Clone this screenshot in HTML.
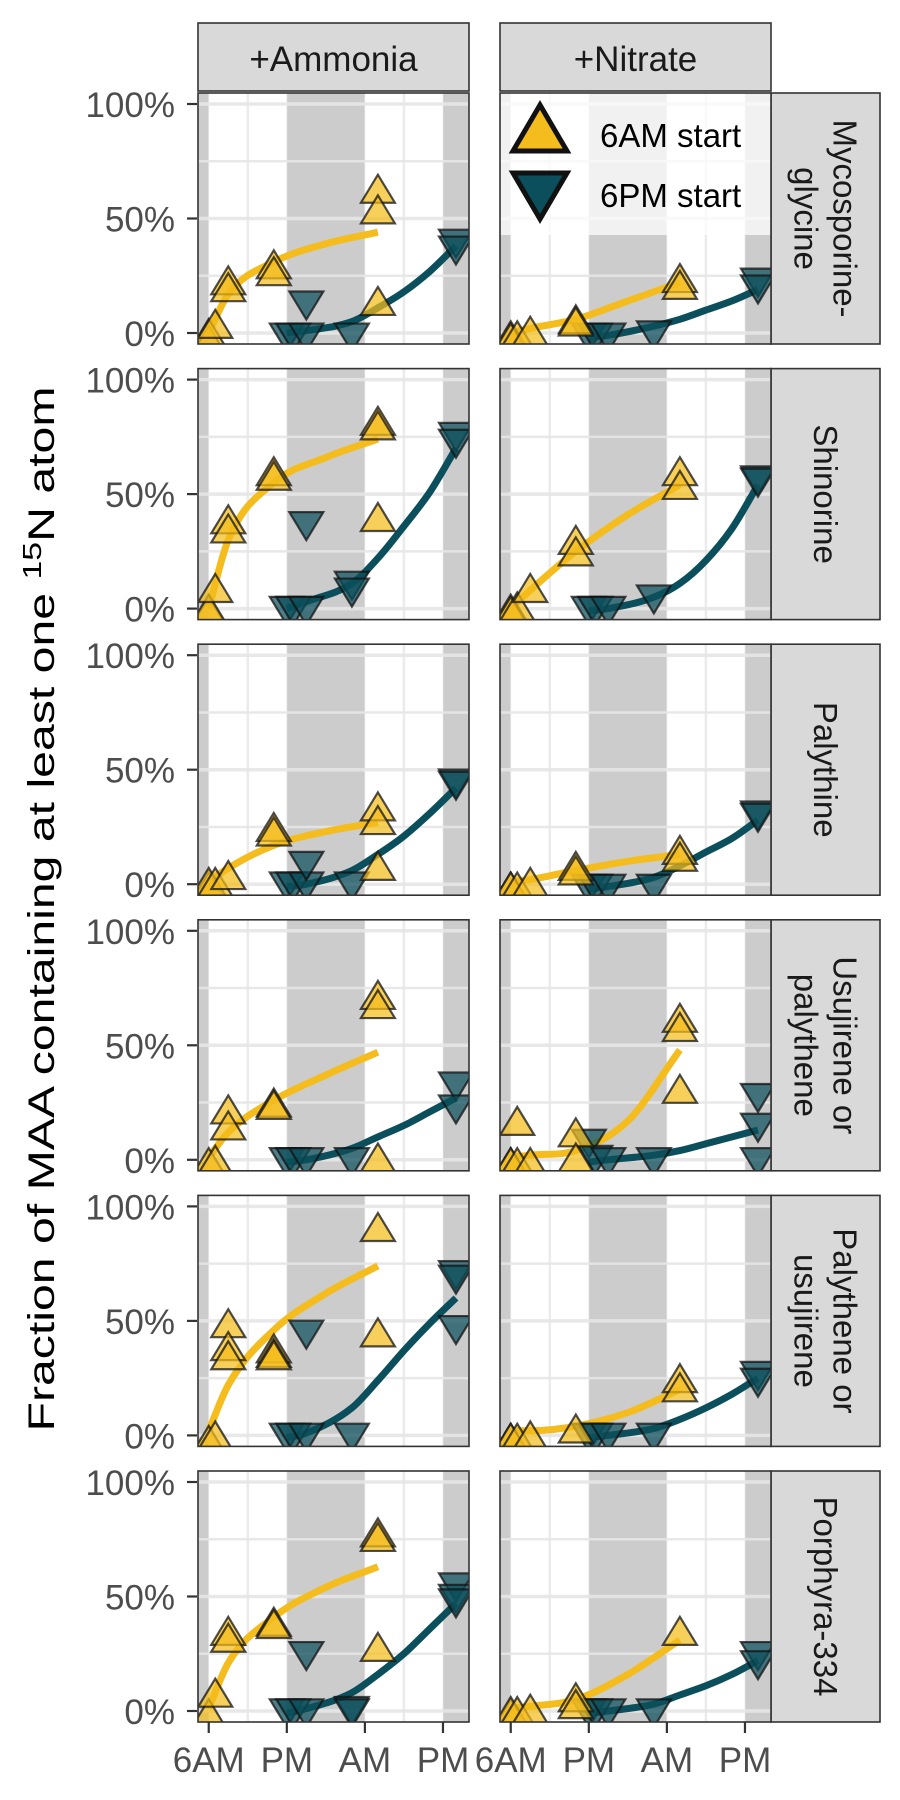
<!DOCTYPE html>
<html><head><meta charset="utf-8">
<style>
html,body{margin:0;padding:0;background:#fff;}
svg{display:block;font-family:"Liberation Sans",Arial,sans-serif;}
</style></head>
<body>
<svg id="chart" width="900" height="1800" viewBox="0 0 900 1800" xmlns="http://www.w3.org/2000/svg">
<text transform="translate(54,909) rotate(-90)" text-anchor="middle" font-size="37" fill="#000" textLength="1045" lengthAdjust="spacingAndGlyphs">Fraction of MAA containing at least one <tspan font-size="26" dy="-13">15</tspan><tspan dy="13">N atom</tspan></text>
</svg>
<script>
// ---- data ----
const rowNames = [["Mycosporine-","glycine"],["Shinorine"],["Palythine"],["Usujirene or","palythene"],["Palythene or","usujirene"],["Porphyra-334"]];
const colNames = ["+Ammonia","+Nitrate"];
const xTickLabels = ["6AM","PM","AM","PM"];
const xTickTimes = [0,12,24,36];
const yTickValues = [0,50,100];
const yTickLabels = ["0%","50%","100%"];
const fitTimesAM = [0,3,10,18,26];
const fitTimesPM = [12,15,22,26,30,34,38];

// points [time(h), percent]
const myco_amm_am = [[0,-3],[0,0],[1,4],[3,23],[3,20],[10,30],[10,27],[26,63],[26,54],[26,14]];
const myco_amm_pm = [[12,-2],[13,-2],[15,-2],[15,12],[22,-2],[38,39],[38,36]];
const myco_nit_am = [[0,-1],[0,-2],[1,-1],[3,1],[10,6],[10,5],[26,24],[26,21]];
const myco_nit_pm = [[12,-2],[13,-2],[15,-2],[22,-1],[38,22],[38,19]];
const shin_amm_am = [[0,-1],[0,0],[1,9],[3,39],[3,35],[10,60],[10,58],[26,82],[26,80],[26,40]];
const shin_amm_pm = [[12,-1],[13,-1],[15,-1],[15,36],[22,10],[22,7],[38,75],[38,72]];
const shin_nit_am = [[0,0],[0,-1],[1,1],[3,9],[10,30],[10,25],[26,60],[26,54]];
const shin_nit_pm = [[12,-1],[13,-1],[15,-1],[22,4],[38,56],[38,55]];
const paly_amm_am = [[0,-1],[0,1],[1,1],[3,4],[10,25],[10,23],[26,34],[26,28],[26,8]];
const paly_amm_pm = [[12,-1],[13,-1],[15,-1],[15,8],[22,-1],[38,44],[38,43]];
const paly_nit_am = [[0,-1],[0,-1],[1,-1],[3,1],[10,8],[10,6],[26,15],[26,12]];
const paly_nit_pm = [[12,-2],[13,-2],[15,-2],[22,-2],[38,30],[38,29]];
const usuj_amm_am = [[0,-1],[1,0],[3,22],[3,15],[10,25],[10,24],[26,72],[26,68],[26,1]];
const usuj_amm_pm = [[12,-1],[13,-1],[15,-1],[22,-1],[38,32],[38,22]];
const usuj_nit_am = [[0,-1],[0,-1],[1,17],[1,-1],[3,-1],[10,12],[10,1],[26,62],[26,58],[26,31]];
const usuj_nit_pm = [[12,7],[13,0],[15,-1],[22,-1],[38,27],[38,14],[38,-1]];
const pale_amm_am = [[0,-2],[1,0],[3,49],[3,39],[3,35],[10,38],[10,36],[10,35],[26,91],[26,45]];
const pale_amm_pm = [[12,-1],[13,-1],[15,-1],[15,44],[22,-1],[38,70],[38,68],[38,46]];
const pale_nit_am = [[0,-1],[0,-1],[1,-1],[3,0],[10,3],[26,25],[26,21]];
const pale_nit_pm = [[12,-1],[13,-1],[15,-1],[22,-1],[38,26],[38,23]];
const porp_amm_am = [[0,-1],[1,8],[3,35],[3,32],[10,39],[10,38],[26,78],[26,76],[26,28]];
const porp_amm_pm = [[12,-1],[13,-1],[15,-1],[15,24],[22,0],[22,-1],[38,54],[38,49],[38,47]];
const porp_nit_am = [[0,-1],[0,0],[1,0],[3,1],[10,6],[10,3],[26,35]];
const porp_nit_pm = [[12,-1],[13,-1],[15,-1],[22,-1],[38,24],[38,20]];

// fitted curves (percent at fitTimesAM / fitTimesPM)
const myco_amm_fitAM = [0,17,31,39,44];
const myco_amm_fitPM = [0,1,5,11,18,27,38];
const myco_nit_fitAM = [0,2,6,14,22];
const myco_nit_fitPM = [-2,-1,3,6,10,14,19];
const shin_amm_fitAM = [0,30,55,66,74];
const shin_amm_fitPM = [0,3,11,22,36,51,70];
const shin_nit_fitAM = [0,8,25,41,54];
const shin_nit_fitPM = [-1,0,5,11,21,35,54];
const paly_amm_fitAM = [1,7,17,23,27];
const paly_amm_fitPM = [-1,0,6,13,21,31,42];
const paly_nit_fitAM = [1,2,6,10,13];
const paly_nit_fitPM = [-2,-1,3,8,14,20,28];
const usuj_amm_fitAM = [1,12,26,37,47];
const usuj_amm_fitPM = [-1,0,5,10,15,21,27];
const usuj_nit_fitAM = [1,2,4,17,48];
const usuj_nit_fitPM = [-1,0,2,4,7,10,13];
const pale_amm_fitAM = [2,22,46,62,74];
const pale_amm_fitPM = [-1,1,12,24,37,49,60];
const pale_nit_fitAM = [2,2,4,10,20];
const pale_nit_fitPM = [-1,0,3,7,12,18,25];
const porp_amm_fitAM = [1,21,41,54,63];
const porp_amm_fitPM = [-1,1,8,16,25,36,47];
const porp_nit_fitAM = [1,2,5,16,31];
const porp_nit_fitPM = [-1,0,3,7,11,16,22];

const pointsAM = [[myco_amm_am,myco_nit_am],[shin_amm_am,shin_nit_am],[paly_amm_am,paly_nit_am],[usuj_amm_am,usuj_nit_am],[pale_amm_am,pale_nit_am],[porp_amm_am,porp_nit_am]];
const pointsPM = [[myco_amm_pm,myco_nit_pm],[shin_amm_pm,shin_nit_pm],[paly_amm_pm,paly_nit_pm],[usuj_amm_pm,usuj_nit_pm],[pale_amm_pm,pale_nit_pm],[porp_amm_pm,porp_nit_pm]];
const fitsAM = [[myco_amm_fitAM,myco_nit_fitAM],[shin_amm_fitAM,shin_nit_fitAM],[paly_amm_fitAM,paly_nit_fitAM],[usuj_amm_fitAM,usuj_nit_fitAM],[pale_amm_fitAM,pale_nit_fitAM],[porp_amm_fitAM,porp_nit_fitAM]];
const fitsPM = [[myco_amm_fitPM,myco_nit_fitPM],[shin_amm_fitPM,shin_nit_fitPM],[paly_amm_fitPM,paly_nit_fitPM],[usuj_amm_fitPM,usuj_nit_fitPM],[pale_amm_fitPM,pale_nit_fitPM],[porp_amm_fitPM,porp_nit_fitPM]];

// ---- layout ----
const NS = "http://www.w3.org/2000/svg";
const svg = document.getElementById("chart");
const colLeft = [198, 500];
const panelW = 271;
const rowTop0 = 93, rowPitch = 275.6, panelH = 251;
const tMin = -1.65, tMax = 40;
const C_AM = "#F4BC1C", C_PM = "#0B4F5C";
function mk(tag, attrs, parent){ const e=document.createElementNS(NS,tag); for(const k in attrs) e.setAttribute(k,attrs[k]); (parent||svg).appendChild(e); return e; }
function xS(c,t){ return colLeft[c] + (t - tMin)/(tMax - tMin)*panelW; }
function yS(r,v){ return rowTop0 + r*rowPitch + 240 - v/100*229; }
function smoothPath(pts){
  const n=pts.length, dx=[], sl=[], m=[];
  for(let i=0;i<n-1;i++){dx[i]=pts[i+1][0]-pts[i][0]; sl[i]=(pts[i+1][1]-pts[i][1])/dx[i];}
  m[0]=sl[0]; m[n-1]=sl[n-2];
  for(let i=1;i<n-1;i++){ m[i]= (sl[i-1]*sl[i]<=0)?0:(sl[i-1]+sl[i])/2; }
  let d = "M"+pts[0][0].toFixed(1)+","+pts[0][1].toFixed(1);
  for(let i=0;i<n-1;i++){
    const h=dx[i];
    d += " C"+(pts[i][0]+h/3).toFixed(1)+","+(pts[i][1]+m[i]*h/3).toFixed(1)+" "+(pts[i+1][0]-h/3).toFixed(1)+","+(pts[i+1][1]-m[i+1]*h/3).toFixed(1)+" "+pts[i+1][0].toFixed(1)+","+pts[i+1][1].toFixed(1);
  }
  return d;
}
function tri(g, x, y, up, fill, big){
  const w = big?27:17, h = big?23:14;
  const pts = up ? [[x,y-h],[x-w,y+h],[x+w,y+h]] : [[x,y+h],[x-w,y-h],[x+w,y-h]];
  return mk("polygon",{points:pts.map(p=>p.join(",")).join(" "), fill:fill, "fill-opacity":big?1:0.72, stroke:"#111", "stroke-opacity":big?1:0.75, "stroke-width":big?5:2.2, "stroke-linejoin":"miter"}, g);
}

const defs = mk("defs",{});
for(let c=0;c<2;c++){
  const g = mk("g",{});
  
  
  mk("rect",{x:colLeft[c],y:23,width:panelW,height:68,fill:"#d9d9d9",stroke:"#333","stroke-width":1.6},g);
  const t = mk("text",{x:colLeft[c]+panelW/2,y:71,"text-anchor":"middle","font-size":35,fill:"#1a1a1a"},g);
  t.textContent = colNames[c];
}
for(let r=0;r<6;r++){
  const top = rowTop0 + r*rowPitch;
  const sg = mk("g",{});
  
  
  mk("rect",{x:771,y:top,width:109,height:panelH,fill:"#d9d9d9",stroke:"#333","stroke-width":1.6},sg);
  const lines = rowNames[r];
  const st = mk("text",{transform:"translate(826,"+(top+panelH/2)+") rotate(90)","text-anchor":"middle","font-size":33,fill:"#1a1a1a"},sg);
  lines.forEach((ln,i)=>{ const ts=mk("tspan",{x:0,y:(i-(lines.length-1)/2)*39+12},st); ts.textContent=ln; });
  const ya = mk("g",{});
  
  
  yTickValues.forEach((v,i)=>{
    const y = yS(r,v);
    mk("line",{x1:187,x2:197,y1:y,y2:y,stroke:"#333","stroke-width":2.2},ya);
    const tt = mk("text",{x:175,y:y+13,"text-anchor":"end","font-size":35,fill:"#4d4d4d"},ya);
    tt.textContent = yTickLabels[i];
  });
  for(let c=0;c<2;c++){
    const cp = mk("clipPath",{id:"cp"+r+c},defs);
    mk("rect",{x:colLeft[c],y:top,width:panelW,height:panelH},cp);
    const g = mk("g",{"clip-path":"url(#cp"+r+c+")"});
    
    
    mk("rect",{x:colLeft[c],y:top,width:panelW,height:panelH,fill:"#fff"},g);
    [6,18,30].forEach(t=>mk("line",{x1:xS(c,t),x2:xS(c,t),y1:top,y2:top+panelH,stroke:"#ebebeb","stroke-width":2.5},g));
    [[tMin,0],[12,24],[36,tMax+2]].forEach(s=>{
      const sh = mk("rect",{x:xS(c,s[0]),y:top,width:xS(c,s[1])-xS(c,s[0]),height:panelH,fill:"#cccccc"},g);
      
      
    });
    [0,25,50,75,100].forEach(v=>mk("line",{x1:colLeft[c],x2:colLeft[c]+panelW,y1:yS(r,v),y2:yS(r,v),stroke:"#e6e6e6","stroke-width":v%50===0?3.5:2.5,"stroke-opacity":0.9},g));
    [0,12,24,36].forEach(t=>mk("line",{x1:xS(c,t),x2:xS(c,t),y1:top,y2:top+panelH,stroke:"#ebebeb","stroke-width":1.2,"stroke-opacity":0.5},g));
    const fa = mk("path",{d:smoothPath(fitTimesAM.map((t,i)=>[xS(c,t),yS(r,fitsAM[r][c][i])])),fill:"none",stroke:C_AM,"stroke-width":7},g);
    
    
    const fp = mk("path",{d:smoothPath(fitTimesPM.map((t,i)=>[xS(c,t),yS(r,fitsPM[r][c][i])])),fill:"none",stroke:C_PM,"stroke-width":7},g);
    
    
    pointsPM[r][c].forEach(p=>{
      const m = tri(g, xS(c,p[0]), yS(r,p[1]), false, C_PM, false);
      
      
    });
    pointsAM[r][c].forEach(p=>{
      const m = tri(g, xS(c,p[0]), yS(r,p[1]), true, C_AM, false);
      
      
    });
    if(r===0 && c===1){
      const lg = mk("g",{});
      
      
      mk("rect",{x:500,y:93,width:271,height:142,fill:"#fff","fill-opacity":0.72},lg);
      const k1 = tri(lg, 540, 128, true, C_AM, true);
      
      
      const k2 = tri(lg, 540, 196, false, C_PM, true);
      
      
      const t1 = mk("text",{x:600,y:147,"font-size":33,fill:"#000"},lg); t1.textContent="6AM start";
      
      
      const t2 = mk("text",{x:600,y:207,"font-size":33,fill:"#000"},lg); t2.textContent="6PM start";
      
      
    }
    mk("rect",{x:colLeft[c],y:top,width:panelW,height:panelH,fill:"none",stroke:"#333","stroke-width":1.6});
  }
}
for(let c=0;c<2;c++){
  const xa = mk("g",{});
  
  
  const bottom = rowTop0 + 5*rowPitch + panelH;
  xTickTimes.forEach((t,i)=>{
    const x = xS(c,t);
    mk("line",{x1:x,x2:x,y1:bottom,y2:bottom+11,stroke:"#333","stroke-width":2.2},xa);
    const tt = mk("text",{x:x,y:bottom+50,"text-anchor":"middle","font-size":35,fill:"#4d4d4d"},xa);
    tt.textContent = xTickLabels[i];
  });
}
</script>
</body></html>
